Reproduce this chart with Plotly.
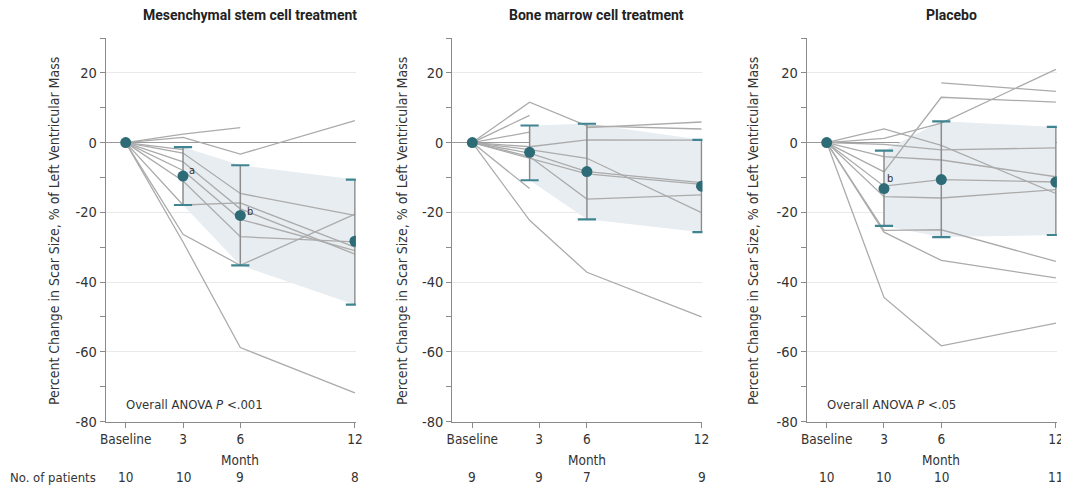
import plotly.graph_objects as go

# ---------------- data ----------------
months = [0, 3, 6, 12]

panel_titles = ["Mesenchymal stem cell treatment", "Bone marrow cell treatment", "Placebo"]
x_tick_text = ["Baseline", "3", "6", "12"]
patients_counts = [["10", "10", "9", "8"], ["9", "9", "7", "9"], ["10", "10", "10", "11"]]
anova_text = ["Overall ANOVA <i>P</i> <.001", None, "Overall ANOVA <i>P</i> <.05"]

msc_patients = [
    [0, 2.4, 4.3, None],
    [0, 1.5, -3.3, 6.3],
    [0, -2.0, None, None],
    [0, -3.0, -14.6, -20.9],
    [0, -5.5, -19.0, -32.0],
    [0, -8.0, -22.0, -31.0],
    [0, -11.0, -27.0, -28.5],
    [0, -17.9, -17.3, -30.0],
    [0, -26.3, -35.2, -20.5],
    [0, -28.5, -58.8, -71.8],
]
msc_mean = [0, -9.6, -20.9, -28.3]
msc_lo = [None, -17.9, -35.2, -46.5]
msc_hi = [None, -1.3, -6.5, -10.6]

bmc_patients = [
    [0, 11.6, 4.8, 3.9],
    [0, 7.8, None, None],
    [0, 3.0, None, None],
    [0, -1.2, 0.8, 0.7],
    [None, None, 4.3, 5.9],
    [0, -3.0, -8.3, -11.5],
    [0, -4.5, -9.0, -12.0],
    [0, -2.0, -4.5, -20.1],
    [0, -4.0, -16.2, -15.0],
    [0, -13.2, None, None],
    [0, -22.3, -37.2, -50.0],
]
bmc_mean = [0, -2.8, -8.3, -12.5]
bmc_lo = [None, -10.8, -22.0, -25.7]
bmc_hi = [None, 4.9, 5.4, 0.8]

pla_patients = [
    [0, 3.9, -0.8, -14.6],
    [0, 1.2, 5.6, 21.0],
    [0, -8.4, 13.0, 11.6],
    [None, None, 17.1, 14.7],
    [0, -0.5, -2.1, -1.5],
    [0, -4.0, -5.0, -9.8],
    [0, -12.5, -10.6, -11.3],
    [0, -15.5, -15.9, -13.5],
    [0, -25.2, -25.0, -34.1],
    [0, -25.7, -33.8, -38.8],
    [0, -44.4, -58.3, -51.8],
]
pla_mean = [0, -13.2, -10.6, -11.3]
pla_lo = [None, -23.9, -27.1, -26.5]
pla_hi = [None, -2.3, 6.1, 4.5]

# superscript notes
note_x = [[3.45, 6.5, 12.35], [], [3.3]]
note_y = [[-8.0, -19.8, -25.5], [], [-10.2]]
note_t = [["a", "b", "b"], [], ["b"]]

y_major = [-80, -60, -40, -20, 0, 20]
y_minor = [-70, -50, -30, -10, 10, 30]

# ---------------- style / layout ----------------
OFF = 8                      # page body margin
FW, FH = 1069 - OFF, 488 - OFF


def px(xp):
    return (xp - OFF) / FW


def py(yp):
    return 1 - (yp - OFF) / FH


FONT = "DejaVu Sans Condensed, Roboto, Arial, sans-serif"
TFONT = "Roboto, Arial, sans-serif"
LINE_C = "#ababab"
TEAL = "#2d6b77"
CAP_C = "#3f8491"
STEM_C = "#8c8c8c"
BAND_C = "#e8edf1"
AXIS_C = "#8a8a8a"
TEXT_C = "#333333"

baseline_px = [125.7, 472.3, 826.7]
ppm = 19.1
x_range = [-1.05, 12.05]
tick_pos = [[0, 3, 6, 12], [0, 3.5, 6, 12], [0, 3, 6, 12]]
y_top_px, y_bot_px = 38, 421.5

panels = [
    (msc_patients, msc_mean, msc_lo, msc_hi),
    (bmc_patients, bmc_mean, bmc_lo, bmc_hi),
    (pla_patients, pla_mean, pla_lo, pla_hi),
]

fig = go.Figure()
annotations = []
layout_axes = {}

for i, (pats, mean, lo, hi) in enumerate(panels):
    xs = "x" if i == 0 else f"x{i+1}"
    ys = "y" if i == 0 else f"y{i+1}"
    bx = months[1:] + months[1:][::-1]
    by = hi[1:] + lo[1:][::-1]
    fig.add_trace(go.Scatter(x=bx, y=by, fill="toself", fillcolor=BAND_C, mode="lines",
                             line=dict(width=0, color=BAND_C), hoverinfo="skip",
                             showlegend=False, xaxis=xs, yaxis=ys))
    for p in pats:
        fig.add_trace(go.Scatter(x=months, y=p, mode="lines", connectgaps=False,
                                 line=dict(color=LINE_C, width=1.3), hoverinfo="skip",
                                 showlegend=False, xaxis=xs, yaxis=ys))
    ex = months[1:]
    ey = mean[1:]
    plus = [h - m for h, m in zip(hi[1:], mean[1:])]
    minus = [m - l for m, l in zip(mean[1:], lo[1:])]
    fig.add_trace(go.Scatter(x=ex, y=ey, mode="markers", marker=dict(size=1, opacity=0),
                             error_y=dict(type="data", array=plus, arrayminus=minus,
                                          color=STEM_C, thickness=1.5, width=0),
                             hoverinfo="skip", showlegend=False, xaxis=xs, yaxis=ys))
    fig.add_trace(go.Scatter(x=ex + ex, y=hi[1:] + lo[1:], mode="markers",
                             marker=dict(symbol="line-ew", size=13,
                                         line=dict(width=2.2, color=CAP_C)),
                             hoverinfo="skip", showlegend=False, xaxis=xs, yaxis=ys))
    fig.add_trace(go.Scatter(x=months, y=mean, mode="markers",
                             marker=dict(size=11, color=TEAL),
                             showlegend=False, xaxis=xs, yaxis=ys))

    left = px(baseline_px[i] + x_range[0] * ppm)
    right = px(baseline_px[i] + x_range[1] * ppm)
    xa = dict(domain=[left, right], range=x_range, anchor=ys, automargin=False,
              tickvals=tick_pos[i], ticktext=x_tick_text,
              showgrid=False, zeroline=False, showline=True, linecolor=AXIS_C, linewidth=1,
              ticks="outside", ticklen=5, tickcolor=AXIS_C,
              tickfont=dict(family=FONT, size=13.5, color=TEXT_C))
    ya = dict(domain=[py(y_bot_px), py(y_top_px)], range=[-80, 30], anchor=xs,
              automargin=False,
              tickvals=y_major, ticktext=[str(v) for v in y_major],
              showgrid=True, gridcolor="#e9e9e9", gridwidth=1,
              zeroline=True, zerolinecolor="#9a9a9a", zerolinewidth=1,
              showline=True, linecolor=AXIS_C, linewidth=1,
              ticks="outside", ticklen=5, tickcolor=AXIS_C,
              minor=dict(tickvals=y_minor, ticks="outside", ticklen=5, tickcolor=AXIS_C, showgrid=False),
              tickfont=dict(family=FONT, size=14.5, color=TEXT_C))
    layout_axes["xaxis" if i == 0 else f"xaxis{i+1}"] = xa
    layout_axes["yaxis" if i == 0 else f"yaxis{i+1}"] = ya

    title_cx = [249.7, 596.0, 951.0][i]
    annotations.append(dict(text=f"<b>{panel_titles[i]}</b>", x=px(title_cx), y=py(15),
                            xref="paper", yref="paper", showarrow=False, xanchor="center",
                            yanchor="middle", font=dict(family=TFONT, size=14, color="#222")))
    yt_x = [54, 402, 753][i]
    annotations.append(dict(text="Percent Change in Scar Size, % of Left Ventricular Mass",
                            x=px(yt_x), y=py(231), xref="paper", yref="paper",
                            textangle=-90, showarrow=False, xanchor="center", yanchor="middle",
                            font=dict(family=FONT, size=14, color=TEXT_C)))
    annotations.append(dict(text="Month", x=6, xref=xs, y=py(460), yref="paper",
                            showarrow=False, xanchor="center", yanchor="middle",
                            font=dict(family=FONT, size=13.5, color=TEXT_C)))
    for tp, c in zip(tick_pos[i], patients_counts[i]):
        annotations.append(dict(text=c, x=tp, xref=xs, y=py(477), yref="paper",
                                showarrow=False, xanchor="center", yanchor="middle",
                                font=dict(family=FONT, size=13.5, color=TEXT_C)))
    if anova_text[i]:
        annotations.append(dict(text=anova_text[i], x=px(baseline_px[i] - 2), y=py(404),
                                xref="paper", yref="paper", showarrow=False, xanchor="left",
                                yanchor="middle", font=dict(family=FONT, size=13, color=TEXT_C)))
    for nx, ny, nt in zip(note_x[i], note_y[i], note_t[i]):
        annotations.append(dict(text=nt, x=nx, y=ny, xref=xs, yref=ys, showarrow=False,
                                xanchor="center", yanchor="middle",
                                font=dict(family=FONT, size=11, color=TEXT_C)))

annotations.append(dict(text="No. of patients", x=0, y=py(477), xref="paper", yref="paper",
                        showarrow=False, xanchor="left", yanchor="middle",
                        font=dict(family=FONT, size=13, color=TEXT_C)))

fig.update_layout(width=FW, height=FH, margin=dict(l=0, r=0, t=0, b=0, autoexpand=False),
                  paper_bgcolor="white", plot_bgcolor="white",
                  annotations=annotations, showlegend=False, **layout_axes)

fig.write_html("out.html")
